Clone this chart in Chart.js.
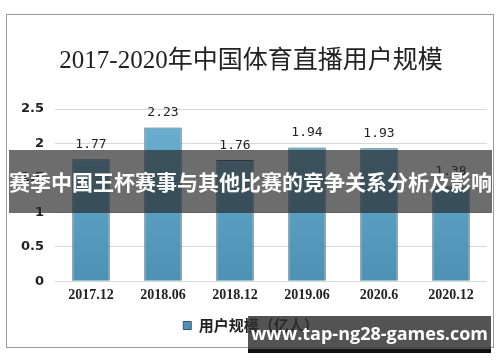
<!DOCTYPE html>
<html>
<head>
<meta charset="utf-8">
<script src="https://cdn.jsdelivr.net/npm/chart.js@4.4.0/dist/chart.umd.min.js"></script>
<style>
  html, body { margin: 0; padding: 0; background: #fff; }
  #wrap { position: relative; width: 500px; height: 362px; overflow: hidden; }
  #frame { position: absolute; left: 6px; top: 14px; width: 486px; height: 332px; border: 1px solid #9a9a9a; }
  #userChart { position: absolute; left: 0; top: 0; }
  #banner { position: absolute; left: 9px; top: 150px; width: 483px; height: 63px; background: rgba(40,40,40,0.68);
    color: #fff; font: bold 21px "Noto Sans CJK SC", sans-serif; line-height: 63px; text-align: center; white-space: nowrap; letter-spacing: 0px; }
  #mark { position: absolute; left: 248px; top: 316px; width: 243px; height: 33px; background: rgba(45,45,45,0.82);
    border-bottom: 4px solid #111; color: #fff; font: bold 18px "Open Sans", "DejaVu Sans", sans-serif; line-height: 34px; text-align: center; white-space: nowrap; }
</style>
</head>
<body>
<div id="wrap">
  <div id="frame"></div>
  <canvas id="userChart" width="500" height="362"></canvas>
  <div id="banner">赛季中国王杯赛事与其他比赛的竞争关系分析及影响</div>
  <div id="mark">www.tap-ng28-games.com</div>
</div>
<script>
// data
const periods = ["2017.12", "2018.06", "2018.12", "2019.06", "2020.6", "2020.12"];
const users = [1.77, 2.23, 1.76, 1.94, 1.93, 1.38];
const yTicks = [0, 0.5, 1, 1.5, 2, 2.5];
const tickText = ["0", "0.5", "1", "1.5", "2", "2.5"];

// value labels above each bar
const valueLabels = {
    id: "valueLabels",
    afterDatasetsDraw(chart) {
        const ctx = chart.ctx;
        const meta = chart.getDatasetMeta(0);
        ctx.save();
        ctx.fillStyle = "#222";
        ctx.font = "13px 'DejaVu Sans Mono', monospace";
        ctx.textAlign = "center";
        ctx.textBaseline = "bottom";
        meta.data.forEach((bar, i) => {
            ctx.fillText(users[i].toFixed(2), bar.x, bar.y - 8);
        });
        ctx.restore();
    }
};

const ctx = document.getElementById("userChart").getContext("2d");

new Chart(ctx, {
    type: "bar",
    data: {
        labels: periods,
        datasets: [{
            label: "用户规模（亿人）",
            data: users,
            backgroundColor: function(context) {
                const area = context.chart.chartArea;
                if (!area) return "#5ea2c5";
                const g = context.chart.ctx.createLinearGradient(0, area.top, 0, area.bottom);
                g.addColorStop(0, "#6cb0d2");
                g.addColorStop(1, "#4d92b4");
                return g;
            },
            borderColor: "#34586c",
            borderWidth: 1,
            barPercentage: 0.52,
            categoryPercentage: 1
        }]
    },
    options: {
        responsive: false,
        animation: false,
        layout: { padding: { left: 15, right: 13, top: 0, bottom: 19 } },
        plugins: {
            title: {
                display: true,
                text: "2017-2020年中国体育直播用户规模",
                color: "#222",
                font: { size: 25, family: "'Liberation Serif', 'Noto Sans CJK SC', serif", weight: "normal" },
                padding: { top: 46, bottom: 33 }
            },
            legend: {
                position: "bottom",
                labels: {
                    color: "#222",
                    boxWidth: 8,
                    boxHeight: 8,
                    padding: 8,
                    font: { size: 15, weight: "bold", family: "'Noto Sans CJK SC', sans-serif" }
                }
            },
            tooltip: { enabled: false }
        },
        scales: {
            x: {
                grid: { display: false, drawTicks: false },
                border: { display: false },
                ticks: {
                    color: "#222",
                    padding: 6,
                    font: { size: 14, weight: "bold", family: "'Liberation Serif', serif" }
                }
            },
            y: {
                min: 0,
                max: 2.5,
                afterFit(scale) { scale.width = 40; },
                afterBuildTicks(scale) { scale.ticks = yTicks.map(v => ({ value: v })); },
                border: { display: false },
                grid: { color: "#d8d8d8", lineWidth: 1, drawTicks: false },
                ticks: {
                    color: "#222",
                    padding: 11,
                    font: { size: 13, weight: "bold", family: "'DejaVu Sans', sans-serif" },
                    callback: function(value) {
                        return tickText[yTicks.indexOf(value)];
                    }
                }
            }
        }
    },
    plugins: [valueLabels]
});
</script>
</body>
</html>
